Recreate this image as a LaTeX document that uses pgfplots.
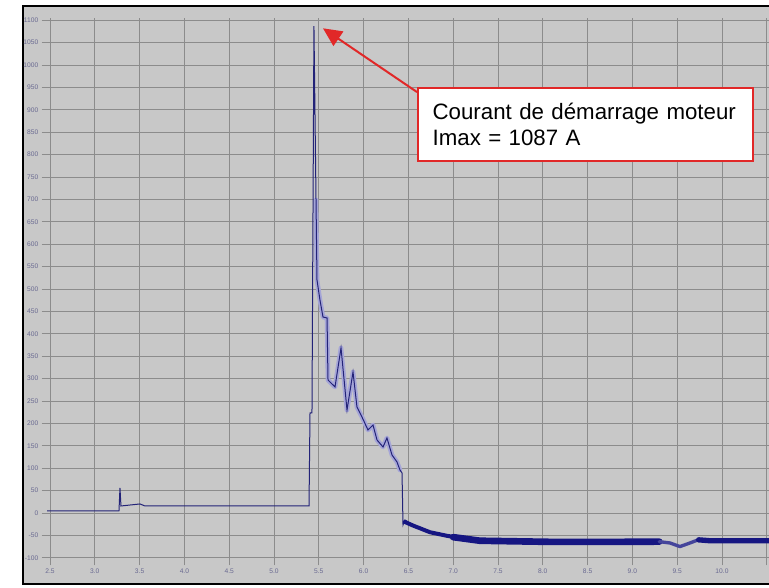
\documentclass[border=0pt]{standalone}
\usepackage{pgfplots}
\pgfplotsset{compat=1.18}
\usetikzlibrary{arrows.meta}
\usepackage{fontspec}
\setmainfont{Liberation Sans}
\definecolor{panel}{RGB}{200,200,200}
\definecolor{gridc}{RGB}{140,140,140}
\definecolor{navy}{RGB}{35,35,120}
\definecolor{band}{RGB}{22,22,130}
\definecolor{halo}{RGB}{165,165,215}
\definecolor{annred}{RGB}{225,40,40}
\definecolor{ticklab}{RGB}{105,105,145}
\begin{document}
\begin{tikzpicture}[x=1pt,y=1pt]
\useasboundingbox (0,0) rectangle (576.75,440.25);
\clip (0,0) rectangle (576.75,440.25);
\fill[white] (0,0) rectangle (576.75,440.25);
\draw[line width=1.5pt, fill=panel] (17.25,2.25) rectangle (590,435.75);
\begin{axis}[
  at={(35.25pt,20.25pt)}, anchor=south west,
  scale only axis, width=541.5pt, height=406.5pt,
  xmin=2.4665, xmax=10.525, ymin=-105, ymax=1105,
  xtick={2.5,3,...,10}, ytick={-100,-50,...,1100},
  extra x ticks={10.5}, extra x tick labels={},
  grid=major, major grid style={gridc, line width=0.6pt},
  axis line style={draw=none},
  tick style={gridc, line width=0.6pt},
  tick align=outside, major tick length=4pt,
  xtick pos=bottom, ytick pos=left,
  ticklabel style={font=\fontsize{5}{6}\selectfont, text=ticklab},
  /pgf/number format/assume math mode=true,
  xticklabel style={/pgf/number format/fixed, /pgf/number format/fixed zerofill, /pgf/number format/precision=1, yshift=1pt},
  yticklabel style={/pgf/number format/fixed, /pgf/number format/1000 sep={}, xshift=1pt},
]
\addplot[halo, line width=3.5pt, line join=round, line cap=round] coordinates {(5.469,698.7)(5.480,520.1)(5.513,475.4)(5.547,437.5)(5.592,435.3)(5.603,296.9)(5.681,281.3)(5.748,368.3)(5.815,229.9)(5.882,314.7)(5.926,236.6)(5.982,214.3)(6.049,185.3)(6.105,196.4)(6.150,162.9)(6.217,147.3)(6.261,167.4)(6.317,129.5)(6.373,113.8)(6.406,96)};
\addplot[navy, line width=0.75pt] coordinates {(2.4665,4.5)(3.270,4.5)(3.281,55.8)(3.292,15.6)(3.504,20.1)(3.560,15.6)(5.391,15.6)(5.402,223.2)(5.424,223.2)(5.446,1087)(5.469,698.7)(5.480,520.1)(5.513,475.4)(5.547,437.5)(5.592,435.3)(5.603,296.9)(5.681,281.3)(5.748,368.3)(5.815,229.9)(5.882,314.7)(5.926,236.6)(5.982,214.3)(6.049,185.3)(6.105,196.4)(6.150,162.9)(6.217,147.3)(6.261,167.4)(6.317,129.5)(6.373,113.8)(6.406,96)(6.429,89.3)(6.440,-26.8)(6.462,-15.6)(6.551,-26.8)(6.741,-42.4)(6.931,-49.1)(7.109,-55.8)(7.299,-60.3)(8.080,-62.5)(8.862,-62.5)(9.420,-67)(9.531,-75.9)(9.643,-67)(9.721,-60.3)(9.866,-62.5)(10.525,-62.5)};
\addplot[band, line width=3pt, line join=round, line cap=round] coordinates {(6.46,-20)(6.551,-28)(6.741,-43)(6.931,-51)(7.109,-57)};
\addplot[band, line width=5pt, line join=round, line cap=round] coordinates {(7.0,-54)(7.299,-62)(8.080,-64.5)(8.862,-64.5)(9.30,-64)};
\addplot[band!80!white, line width=2.5pt, line join=round, line cap=round] coordinates {(9.30,-64)(9.420,-67)(9.531,-75)(9.643,-67)(9.721,-61)};
\addplot[band, line width=4pt, line join=round, line cap=round] coordinates {(9.74,-60)(9.866,-62)(10.525,-62)};
\draw[annred, line width=1.5pt, -{Triangle[length=14pt,width=13pt]}] (axis cs:6.596,939.7) -- (axis cs:5.547,1082);
\node[draw=annred, line width=1.5pt, fill=white, anchor=north west, minimum height=54.75pt, inner xsep=11pt, text width=229pt, align=left, font=\fontsize{16.7}{19}\selectfont] at (axis cs:6.596,950.9) {\raisebox{-1.5pt}{Courant de démarrage moteur}\\\raisebox{-1.5pt}{Imax = 1087 A}};
\end{axis}
\end{tikzpicture}
\end{document}
